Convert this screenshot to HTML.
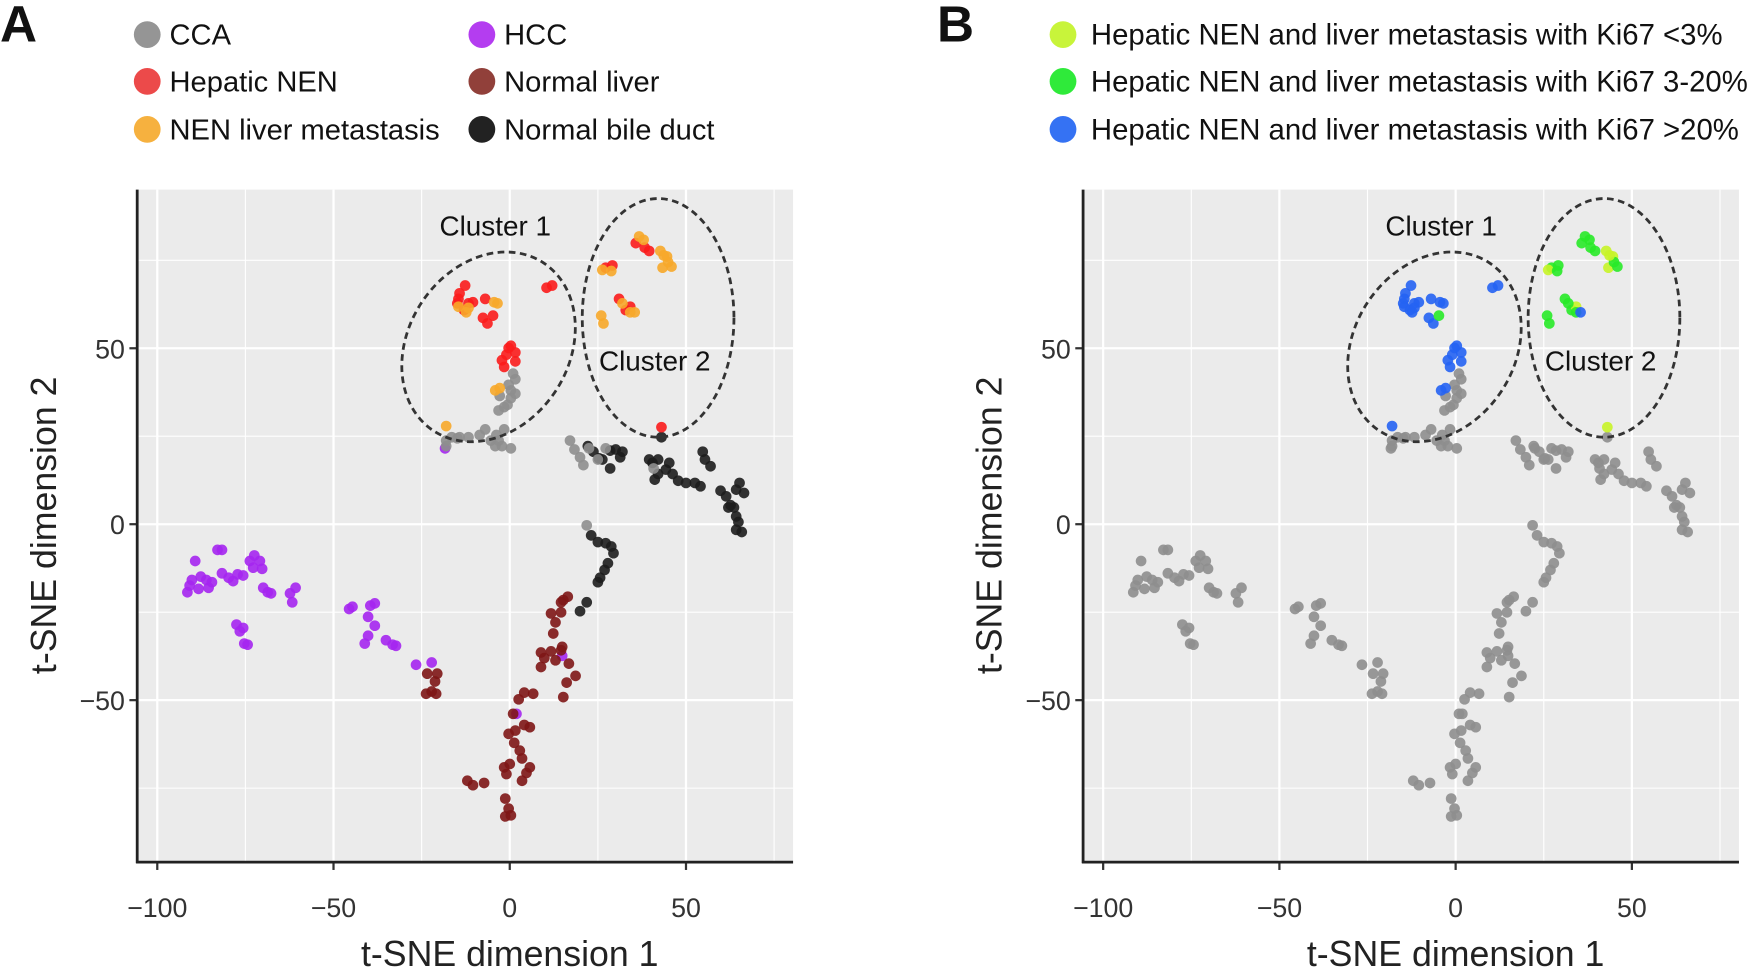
<!DOCTYPE html>
<html><head><meta charset="utf-8"><style>
html,body{margin:0;padding:0;background:#fff;}
svg{display:block;}
text{font-family:"Liberation Sans",Arial,sans-serif;}
</style></head><body>
<svg id="s" width="1749" height="967" viewBox="0 0 1568 867" preserveAspectRatio="none" xmlns="http://www.w3.org/2000/svg"></svg>
<script>
const s=document.getElementById('s');let h='';
const G='#8e8e8e',P='#a526ef',R='#fb1c1c',O='#f7a82a',D='#7e1616',K='#1d1d1d',BL='#2563f3',GR='#28ea28',YE='#c8f428';
const pts={
P:[[168,531],[172,520],[175,503],[180,517],[185,520],[190,522],[195,493],[199,493],[199,514],[205,518],[209,521],[213,515],[218,516],[224,503],[227,509],[228,498],[233,503],[235,510],[240,531],[243,532],[236,527],[260,532],[262,540],[265,527],[212,560],[215,566],[219,577],[222,578],[218,563],[170,525],[178,528],[187,527],[313,546],[316,544],[332,543],[336,541],[330,553],[336,561],[330,570],[327,577],[346,574],[352,578],[355,579],[373,596],[387,594],[463,640],[504,588],[399,402]],
D:[[383,604],[392,604],[390,611],[387,620],[382,622],[391,622],[494,550],[503,549],[498,558],[496,568],[509,535],[505,538],[503,540],[485,585],[488,590],[485,598],[494,584],[498,592],[510,595],[516,606],[508,612],[505,625],[470,621],[478,622],[465,627],[460,640],[470,650],[475,652],[462,655],[456,658],[461,666],[466,673],[468,680],[472,693],[475,688],[468,700],[457,685],[452,688],[454,694],[419,700],[424,704],[434,702],[453,716],[456,725],[453,732],[458,731],[504,580],[503,583]],
K:[[530,480],[536,486],[543,487],[548,490],[550,496],[545,505],[542,511],[538,518],[536,522],[526,540],[520,548],[527,400],[532,405],[547,404],[537,411],[540,412],[552,403],[556,410],[547,420],[558,405],[582,412],[585,415],[590,425],[587,430],[597,421],[603,425],[608,431],[615,433],[623,433],[628,436],[630,405],[632,412],[637,418],[646,440],[651,445],[660,439],[663,433],[667,442],[655,453],[660,463],[662,468],[665,477],[660,475],[658,455],[653,455],[600,415],[590,412],[593,392]],
G:[[511,395],[515,403],[523,417],[528,402],[543,402],[586,420],[458,350],[462,353],[462,340],[460,335],[456,345],[458,357],[455,363],[452,365],[447,368],[448,355],[400,400],[400,395],[410,393],[420,392],[430,390],[435,385],[440,395],[445,390],[450,400],[458,402],[444,400],[452,385],[447,395],[405,392],[412,392],[526,471],[536,412],[520,410]],
R:[[412,263,'B'],[417,256,'B'],[410,272,'B'],[420,272,'B'],[416,278,'B'],[435,268,'B'],[433,285,'B'],[437,290,'B'],[442,283,'G'],[458,310,'B'],[454,318,'B'],[450,323,'B'],[462,324,'B'],[456,312,'B'],[490,258,'B'],[495,256,'B'],[543,240,'G'],[549,238,'G'],[570,218,'G'],[578,222,'G'],[555,268,'G'],[561,278,'G'],[565,275,'Y'],[452,329,'B'],[462,316,'B'],[411,268,'B'],[582,225,'G'],[424,271,'B'],[593,383,'Y']],
O:[[411,275,'B'],[420,276,'B'],[418,280,'B'],[443,271,'B'],[446,272,'B'],[448,348,'B'],[444,350,'B'],[400,382,'B'],[539,283,'G'],[541,290,'G'],[573,212,'G'],[577,215,'G'],[592,225,'Y'],[598,230,'Y'],[594,240,'Y'],[599,235,'G'],[602,239,'G'],[540,242,'Y'],[548,243,'G'],[558,272,'G'],[565,280,'G'],[569,280,'B'],[595,229,'Y']]
};
const col={P:P,D:D,K:K,G:G,R:R,O:O};const bcol={B:BL,G:GR,Y:YE};
function panel(dx,isB){
 const L=123+dx,Rr=711+dx,T=170,B=773;
 h+=`<rect x="${L}" y="${T}" width="${Rr-L}" height="${B-T}" fill="#ebebeb"/>`;
 [-75,-25,25,75].forEach(v=>{const x=457+dx+3.16*v;h+=`<line x1="${x}" y1="${T}" x2="${x}" y2="${B}" stroke="#fff" stroke-width="1"/>`;const y=470-3.155*v;h+=`<line x1="${L}" y1="${y}" x2="${Rr}" y2="${y}" stroke="#fff" stroke-width="1"/>`;});
 [-100,-50,0,50].forEach(v=>{const x=457+dx+3.16*v;h+=`<line x1="${x}" y1="${T}" x2="${x}" y2="${B}" stroke="#fff" stroke-width="2"/><line x1="${x}" y1="${B}" x2="${x}" y2="${B+7}" stroke="#333" stroke-width="2"/><text x="${x}" y="${822}" font-size="24" text-anchor="middle" fill="#333">${v<0?'\u2212'+(-v):v}</text>`;});
 [50,0,-50].forEach(v=>{const y=470-3.155*v;h+=`<line x1="${L}" y1="${y}" x2="${Rr}" y2="${y}" stroke="#fff" stroke-width="2"/><line x1="${L-7}" y1="${y}" x2="${L}" y2="${y}" stroke="#333" stroke-width="2"/><text x="${L-11}" y="${y+9}" font-size="24" text-anchor="end" fill="#333">${v<0?'\u2212'+(-v):v}</text>`;});
 h+=`<line x1="${L}" y1="${T}" x2="${L}" y2="${B+1}" stroke="#222" stroke-width="2.5"/><line x1="${L-1}" y1="${B}" x2="${Rr}" y2="${B}" stroke="#222" stroke-width="2.5"/>`;
 for(const k of ['P','D','K','G','R','O']){pts[k].forEach(p=>{let c=col[k];if(isB){c=(k==='R'||k==='O')?bcol[p[2]]:G;}h+=`<circle cx="${p[0]+dx}" cy="${p[1]}" r="4.8" fill="${c}" fill-opacity="0.9"/>`;});}
 h+=`<ellipse cx="${438+dx}" cy="${311}" rx="72" ry="90" transform="rotate(33 ${438+dx} 311)" fill="none" stroke="#333" stroke-width="2.5" stroke-dasharray="6,4"/>`;
 h+=`<ellipse cx="${590+dx}" cy="${285}" rx="68" ry="107" fill="none" stroke="#333" stroke-width="2.5" stroke-dasharray="6,4"/>`;
 h+=`<text x="${444+dx}" y="211" font-size="25" text-anchor="middle" fill="#111">Cluster 1</text><text x="${587+dx}" y="332" font-size="25" text-anchor="middle" fill="#111">Cluster 2</text>`;
 h+=`<text x="${457+dx}" y="866" font-size="32" text-anchor="middle" fill="#222">t-SNE dimension 1</text>`;
 h+=`<text transform="translate(${50+dx} 471) rotate(-90)" font-size="32" text-anchor="middle" fill="#222">t-SNE dimension 2</text>`;
}
panel(0,false);panel(848,true);
h+=`<text x="0" y="37" font-size="46" font-weight="bold" fill="#111">A</text><text x="840" y="37" font-size="46" font-weight="bold" fill="#111">B</text>`;
const legA=[[132,'#959595','CCA',31],[132,'#ec4a4a','Hepatic NEN',73],[132,'#f6b13f','NEN liver metastasis',116],[432,'#b43df0','HCC',31],[432,'#91403a','Normal liver',73],[432,'#222','Normal bile duct',116]];
legA.forEach(l=>{h+=`<circle cx="${l[0]}" cy="${l[3]}" r="12" fill="${l[1]}"/><text x="${l[0]+20}" y="${l[3]+9}" font-size="26.1" fill="#111">${l[2]}</text>`;});
[['#c8f43a','&lt;3%',31],['#2fea3a','3-20%',73],['#3572f3','&gt;20%',116]].forEach(l=>{h+=`<circle cx="953" cy="${l[2]}" r="12" fill="${l[0]}"/><text x="978" y="${l[2]+9}" font-size="26.3" fill="#111">Hepatic NEN and liver metastasis with Ki67 ${l[1]}</text>`;});
s.innerHTML=h;
</script>
</body></html>
